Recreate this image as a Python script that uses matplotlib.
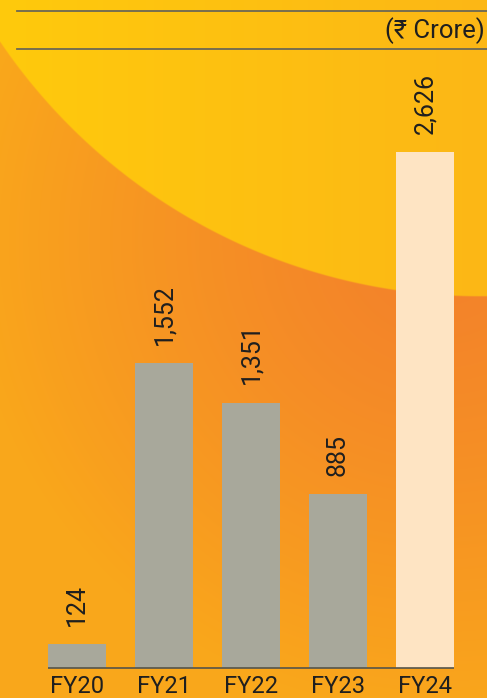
import numpy as np
import matplotlib
matplotlib.use("Agg")
import matplotlib.pyplot as plt
from matplotlib.lines import Line2D

# chart data
years = ["FY20", "FY21", "FY22", "FY23", "FY24"]
values = [124, 1552, 1351, 885, 2626]
unit_label = "(\u20b9 Crore)"

W, H, DPI = 487, 698, 100
FONT = ["Roboto", "DejaVu Sans"]
TEXT = "#1f1f1f"
GREY_BAR = "#a8a89b"
HIGHLIGHT_BAR = "#fee4c3"


def hex_rgb(h):
    h = h.lstrip("#")
    return np.array([int(h[i:i + 2], 16) / 255 for i in (0, 2, 4)])


def background_image():
    # orange gradient with a big yellow disc in the top left
    s = 2
    yy, xx = np.mgrid[0:H * s, 0:W * s] / s
    light = hex_rgb("#faa71b")
    dark = hex_rgb("#f3812b")
    d = np.hypot(xx - 440, yy - 240)
    t = np.clip(d / 470, 0, 1) ** 1.3
    img = dark * (1 - t[..., None]) + light * t[..., None]

    y_left = hex_rgb("#ffca0c")
    y_right = hex_rgb("#fcb716")
    u = np.clip(xx / W, 0, 1)[..., None]
    yellow = y_left * (1 - u) + y_right * u
    r = np.hypot(xx - 480, yy + 284)
    a = np.clip(580 - r + 0.5, 0, 1)[..., None]
    return yellow * a + img * (1 - a)


fig = plt.figure(figsize=(W / DPI, H / DPI), dpi=DPI)

bg = fig.add_axes([0, 0, 1, 1])
bg.imshow(background_image(), extent=[0, W, H, 0], interpolation="bilinear")
bg.set_axis_off()

ax = fig.add_axes([0, 0, 1, 1])
ax.patch.set_alpha(0)
x = np.arange(len(years))
colors = [GREY_BAR] * (len(years) - 1) + [HIGHLIGHT_BAR]
bar_w = 58 / 87
ax.bar(x, values, width=bar_w, color=colors, zorder=2)

# map data -> pixels: bar centres at 77 + 87*i, baseline at 668px, 2626 at 152px
px_per_unit = (668 - 152) / max(values)
ax.set_xlim(-77 / 87, (W - 77) / 87)
ax.set_ylim(-30 / px_per_unit, (H - 30) / px_per_unit)
ax.set_axis_off()

ax.hlines(0, -bar_w / 2, len(years) - 1 + bar_w / 2, color="#55544a", lw=1.2, zorder=3)

for xi, v in zip(x, values):
    ax.annotate(f"{v:,}", (xi, v), xytext=(0, 13), textcoords="offset points",
                rotation=90, ha="center", va="bottom", fontsize=18,
                color=TEXT, family=FONT)
    ax.annotate(years[xi], (xi, 0), xytext=(0, -5), textcoords="offset points",
                ha="center", va="top", fontsize=17, color=TEXT, family=FONT)

# header rules and unit label
for ypx in (11, 49):
    fig.add_artist(Line2D([17 / W, 1], [1 - ypx / H] * 2, color="#6c6854", lw=1.3))
fig.text(485 / W, 1 - 31 / H, unit_label, ha="right", va="center",
         fontsize=18.5, color=TEXT, family=FONT)

fig.savefig("out.png", dpi=DPI)
